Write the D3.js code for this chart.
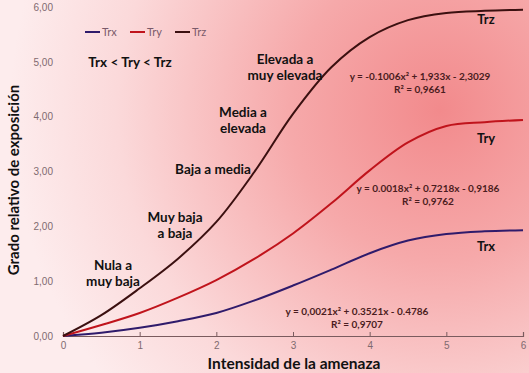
<!DOCTYPE html>
<html>
<head>
<meta charset="utf-8">
<script src="https://cdn.jsdelivr.net/npm/d3@7.9.0/dist/d3.min.js"></script>
<style>
  html, body { margin: 0; padding: 0; overflow: hidden; }
  svg { display: block; font-family: Lato, "Open Sans", sans-serif; }
</style>
</head>
<body>
<svg id="chart" width="529" height="373"></svg>
<script>
// ----- data -----
const intensity = [0, 0.5, 1, 1.5, 2, 2.5, 3, 3.5, 4, 4.5, 5, 5.5, 6];
const trx = [0, 0.06, 0.15, 0.27, 0.42, 0.65, 0.92, 1.21, 1.51, 1.74, 1.86, 1.91, 1.93];
const try_ = [0, 0.2, 0.42, 0.7, 1.02, 1.41, 1.87, 2.42, 3.02, 3.53, 3.83, 3.9, 3.94];
const trz = [0, 0.38, 0.87, 1.41, 2.08, 3.0, 4.05, 4.9, 5.45, 5.76, 5.89, 5.93, 5.95];

const seriesNames = ["Trx", "Try", "Trz"];
const seriesColors = ["#2f1b6b", "#c0141c", "#3b1010"];
const xTicks = [0, 1, 2, 3, 4, 5, 6];
const yTicks = [0, 1, 2, 3, 4, 5, 6];

const equations = [
  { eq: "y = -0.1006x² + 1,933x - 2,3029", r2: "R² = 0,9661", x: 420, y: 77 },
  { eq: "y = 0.0018x² + 0.7218x - 0,9186", r2: "R² = 0,9762", x: 428, y: 189 },
  { eq: "y = 0,0021x² + 0.3521x - 0.4786", r2: "R² = 0,9707", x: 357, y: 312 }
];

const zoneLabels = [
  { lines: ["Elevada a", "muy elevada"], x: 285, y: 60 },
  { lines: ["Media a", "elevada"], x: 243, y: 113 },
  { lines: ["Baja a media"], x: 213, y: 170 },
  { lines: ["Muy baja", "a baja"], x: 175, y: 218 },
  { lines: ["Nula a", "muy baja"], x: 113, y: 266 }
];

const svg = d3.select("#chart");
const W = 529, H = 373;

// background gradient
const defs = svg.append("defs");
const grad = defs.append("radialGradient")
  .attr("id", "bg")
  .attr("gradientUnits", "userSpaceOnUse")
  .attr("cx", 440).attr("cy", 110).attr("r", 430);
grad.append("stop").attr("offset", "0%").attr("stop-color", "#f28a8c");
grad.append("stop").attr("offset", "35%").attr("stop-color", "#f6a9aa");
grad.append("stop").attr("offset", "75%").attr("stop-color", "#fbd9da");
grad.append("stop").attr("offset", "100%").attr("stop-color", "#fdeced");
svg.append("rect").attr("width", W).attr("height", H).attr("fill", "url(#bg)");

// scales
const x = d3.scaleLinear().domain([0, 6]).range([63, 523]);
const y = d3.scaleLinear().domain([0, 6]).range([336, 7]);

// x axis
const xAxis = d3.axisBottom(x)
  .tickValues(xTicks)
  .tickSize(-4)
  .tickPadding(6)
  .tickFormat(d3.format("d"));
const gx = svg.append("g")
  .attr("transform", `translate(0,${y(0)})`)
  .call(xAxis);
gx.select(".domain").attr("stroke", "#7a5b5e").attr("stroke-width", 1.2);
gx.selectAll(".tick line").attr("stroke", "#7a5b5e");
gx.selectAll(".tick text").attr("fill", "#7f6a6f").style("font-size", "10px");

// y axis (labels only)
const gy = svg.append("g")
  .attr("transform", `translate(${x(0)},0)`)
  .call(d3.axisLeft(y).tickValues(yTicks).tickSize(0).tickPadding(10)
    .tickFormat(d => d3.format(".2f")(d).replace(".", ",")));
gy.select(".domain").remove();
gy.selectAll(".tick text").attr("fill", "#7f6a6f").style("font-size", "10px");

// lines
const line = d3.line()
  .x((d, i) => x(intensity[i]))
  .y(d => y(d))
  .curve(d3.curveCatmullRom.alpha(0.5));

[trx, try_, trz].forEach((vals, i) => {
  svg.append("path")
    .datum(vals)
    .attr("fill", "none")
    .attr("stroke", seriesColors[i])
    .attr("stroke-width", 2)
    .attr("d", line);
});

// legend
const legendX = [85, 130, 175];
seriesNames.forEach((name, i) => {
  const lg = svg.append("g").attr("transform", `translate(${legendX[i]},32)`);
  lg.append("line").attr("x1", 0).attr("x2", 15).attr("y1", 0).attr("y2", 0)
    .attr("stroke", seriesColors[i]).attr("stroke-width", 2);
  lg.append("text").attr("x", 17).attr("y", 4)
    .attr("fill", "#7a5a6a").style("font-size", "11px").text(name);
});

svg.append("text")
  .attr("x", 130).attr("y", 67)
  .attr("text-anchor", "middle")
  .style("font-size", "13.5px").style("font-weight", "bold")
  .attr("fill", "#111")
  .text("Trx < Try < Trz");

// zone labels
zoneLabels.forEach(z => {
  const t = svg.append("text")
    .attr("text-anchor", "middle")
    .style("font-size", "13.5px").style("font-weight", "bold")
    .attr("fill", "#111");
  z.lines.forEach((l, j) => {
    t.append("tspan").attr("x", z.x).attr("y", z.y + 4 + j * 16).text(l);
  });
});

// end-of-line names
const endLabels = [
  { t: "Trz", y: 24 }, { t: "Try", y: 143 }, { t: "Trx", y: 251 }
];
endLabels.forEach(e => {
  svg.append("text").attr("x", 486).attr("y", e.y)
    .attr("text-anchor", "middle")
    .style("font-size", "13px").style("font-weight", "bold")
    .attr("fill", "#111").text(e.t);
});

// trend equations
equations.forEach(e => {
  const t = svg.append("text")
    .attr("text-anchor", "middle")
    .style("font-size", "10px").style("font-weight", "bold")
    .attr("fill", "#4a1c20");
  t.append("tspan").attr("x", e.x).attr("y", e.y + 3).text(e.eq);
  t.append("tspan").attr("x", e.x).attr("y", e.y + 16).text(e.r2);
});

// axis titles
svg.append("text")
  .attr("x", 294).attr("y", 369)
  .attr("text-anchor", "middle")
  .style("font-size", "15.5px").style("font-weight", "bold")
  .attr("fill", "#111")
  .text("Intensidad de la amenaza");

svg.append("text")
  .attr("transform", "translate(19,180) rotate(-90)")
  .attr("text-anchor", "middle")
  .style("font-size", "15px").style("font-weight", "bold")
  .attr("fill", "#111")
  .text("Grado relativo de exposición");
</script>
</body>
</html>
